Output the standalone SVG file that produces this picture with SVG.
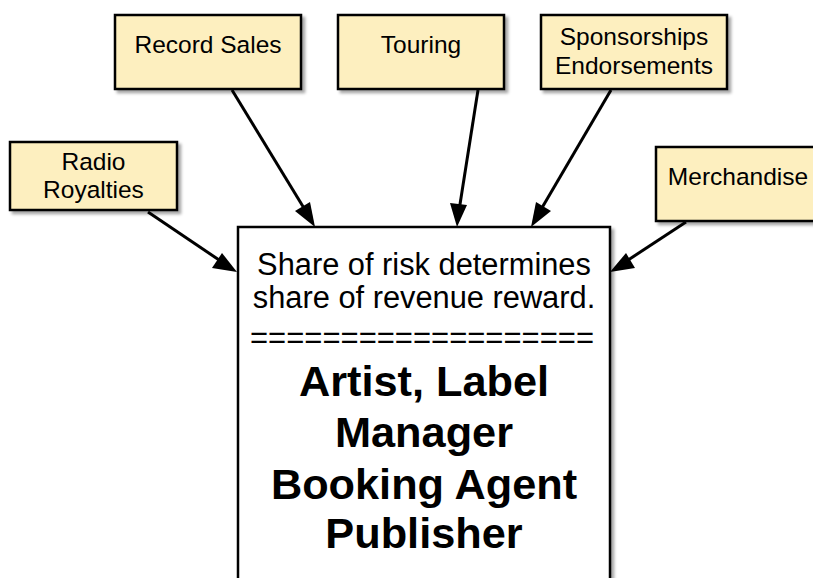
<svg xmlns="http://www.w3.org/2000/svg" width="813" height="578" viewBox="0 0 813 578">
  <defs>
    <filter id="shadow" x="-10%" y="-10%" width="130%" height="130%">
      <feDropShadow dx="3" dy="3" stdDeviation="1.5" flood-color="#000" flood-opacity="0.35"/>
    </filter>
    <style>
      .src { fill: #fdefbf; stroke: #000; stroke-width: 2.5; filter: url(#shadow); }
      .hub { fill: #fff; stroke: #000; stroke-width: 2.5; filter: url(#shadow); }
      .lbl { font-family: "Liberation Sans", Arial, sans-serif; font-size: 24.5px; fill: #000; text-anchor: middle; }
      .note { font-family: "Liberation Sans", Arial, sans-serif; font-size: 30.8px; fill: #000; text-anchor: middle; }
      .rule { font-family: "Liberation Sans", Arial, sans-serif; font-size: 31px; fill: #000; text-anchor: middle; }
      .roles { font-family: "Liberation Sans", Arial, sans-serif; font-size: 43.3px; font-weight: bold; fill: #000; text-anchor: middle; }
      .edge { stroke: #000; stroke-width: 3; fill: none; }
      .head { fill: #000; }
    </style>
  </defs>

  <!-- connectors: shaft plus filled triangular head at the hub -->
  <g id="connectors">
    <line class="edge" x1="148" y1="212" x2="228" y2="266"/>
    <path class="head" d="M237,272 L212,268 L222,253 Z"/>
    <line class="edge" x1="232" y1="90" x2="310" y2="218"/>
    <path class="head" d="M315,227 L295,211 L310,202 Z"/>
    <line class="edge" x1="478" y1="90" x2="458" y2="217"/>
    <path class="head" d="M457,227 L450,203 L467,205 Z"/>
    <line class="edge" x1="611" y1="90" x2="536" y2="218"/>
    <path class="head" d="M531,227 L536,202 L551,211 Z"/>
    <line class="edge" x1="686" y1="222" x2="619" y2="266"/>
    <path class="head" d="M610,272 L626,253 L635,268 Z"/>
  </g>

  <g id="radio-royalties">
    <rect class="src" x="10" y="142" width="167" height="68"/>
    <text class="lbl" x="93.5" y="170">Radio</text>
    <text class="lbl" x="93.5" y="198">Royalties</text>
  </g>

  <g id="record-sales">
    <rect class="src" x="115" y="15" width="186" height="74"/>
    <text class="lbl" x="208" y="53">Record Sales</text>
  </g>

  <g id="touring">
    <rect class="src" x="338" y="15" width="166" height="74"/>
    <text class="lbl" x="421" y="53">Touring</text>
  </g>

  <g id="sponsorships">
    <rect class="src" x="541" y="15" width="186" height="74"/>
    <text class="lbl" x="634" y="45">Sponsorships</text>
    <text class="lbl" x="634" y="74">Endorsements</text>
  </g>

  <g id="merchandise">
    <rect class="src" x="656" y="147" width="170" height="74"/>
    <text class="lbl" x="738" y="185">Merchandise</text>
  </g>

  <g id="stakeholders">
    <rect class="hub" x="238" y="227" width="372" height="370"/>
    <text class="note" x="424" y="275">Share of risk determines</text>
    <text class="note" x="424" y="308">share of revenue reward.</text>
    <text class="rule" x="422" y="348">===================</text>
    <text class="roles" x="424" y="396">Artist, Label</text>
    <text class="roles" x="424" y="447">Manager</text>
    <text class="roles" x="424" y="499">Booking Agent</text>
    <text class="roles" x="424" y="548">Publisher</text>
  </g>
</svg>
